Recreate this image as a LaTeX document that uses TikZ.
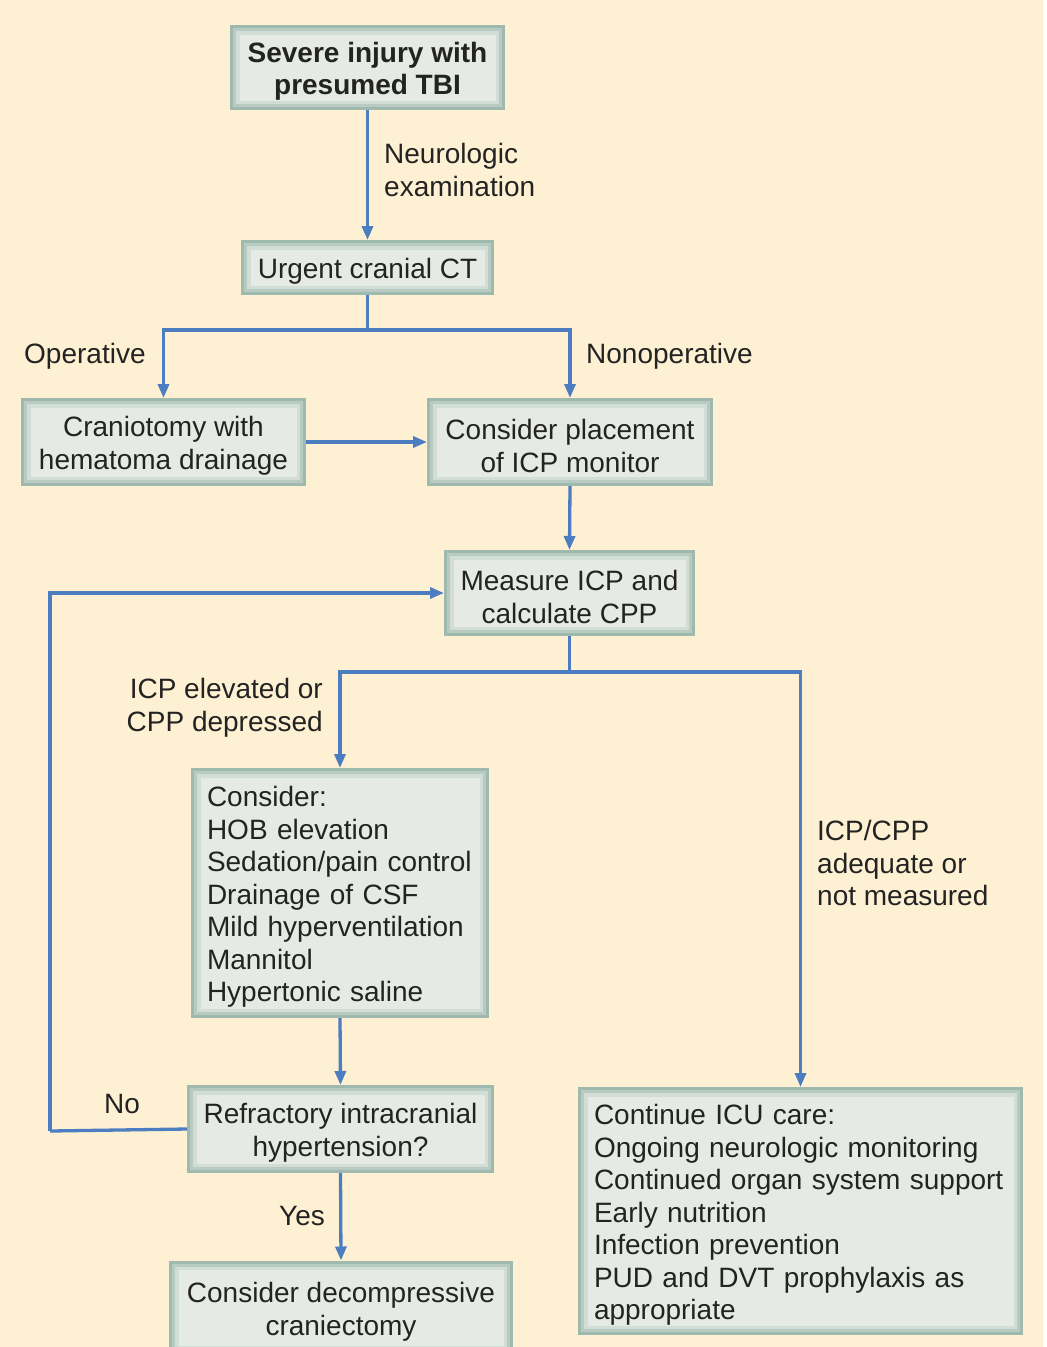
\documentclass[tikz,border=0pt]{standalone}
\usepackage{fontspec}
\setmainfont{Liberation Sans}
\usetikzlibrary{arrows.meta}
\definecolor{cream}{HTML}{FEF1D3}
\definecolor{boxfill}{HTML}{E6EAE4}
\definecolor{edgeA}{HTML}{9FB9AE}
\definecolor{edgeB}{HTML}{B7CBC2}
\definecolor{edgeC}{HTML}{D2DDD7}
\definecolor{flow}{HTML}{4D7DC1}
\definecolor{ink}{HTML}{232323}
% taller first line, so the text block sits slightly lower in its box
\newcommand{\topstrut}{\rule{0pt}{28pt}}
\tikzset{
  x=1pt, y=-1pt,
  every node/.style={text=ink, font=\fontsize{28}{32.5}\selectfont},
  stepbox/.style={rectangle, inner sep=0pt, fill=boxfill, draw=edgeA, line width=3pt,
    align=center,
    path picture={
      \draw[edgeC, line width=16pt] (path picture bounding box.south west) rectangle (path picture bounding box.north east);
      \draw[edgeB, line width=9pt] (path picture bounding box.south west) rectangle (path picture bounding box.north east);
    }},
  lbl/.style={inner sep=0pt},
  flowline/.style={draw=flow, line width=3.3pt},
  flowarrow/.style={flowline, -{Triangle[length=14pt,width=11pt]}},
}
\begin{document}
\begin{tikzpicture}
  \useasboundingbox (0,0) rectangle (1047,1347);
  % page and cream panel
  \fill[white] (0,0) rectangle (1047,1347);
  \fill[cream, rounded corners=14pt] (0,-20) -- (1043,-20) -- (1043,1367) -- (0,1367) -- cycle;

  % boxes
  \node[stepbox, minimum width=272pt, minimum height=82pt, font=\bfseries\fontsize{28}{32.5}\selectfont]
    (tbi) at (367.5,67.5) {\topstrut Severe injury with\\presumed TBI};
  \node[stepbox, minimum width=250pt, minimum height=52pt] (ct) at (367.5,267.5) {\topstrut Urgent cranial CT};
  \node[stepbox, minimum width=282pt, minimum height=85pt] (crani) at (163.5,442) {\topstrut Craniotomy with\\hematoma drainage};
  \node[stepbox, minimum width=283pt, minimum height=85pt] (icpmon) at (570,442) {\topstrut Consider placement\\of ICP monitor};
  \node[stepbox, minimum width=248pt, minimum height=83pt] (measure) at (569.5,593) {\topstrut Measure ICP and\\calculate CPP};
  \node[stepbox, minimum width=295pt, minimum height=247pt, text width=266pt, align=left]
    (consider) at (340,893) {\topstrut Consider:\\HOB elevation\\Sedation/pain control\\Drainage of CSF\\Mild hyperventilation\\Mannitol\\Hypertonic saline};
  \node[stepbox, minimum width=304pt, minimum height=85pt] (refr) at (340.5,1129) {\topstrut Refractory intracranial\\hypertension?};
  \node[stepbox, minimum width=341pt, minimum height=92pt] (decomp) at (341,1308) {\topstrut Consider decompressive\\craniectomy};
  \node[stepbox, minimum width=442pt, minimum height=245pt, text width=413pt, align=left]
    (icu) at (800.5,1211) {\topstrut Continue ICU care:\\Ongoing neurologic monitoring\\Continued organ system support\\Early nutrition\\Infection prevention\\PUD and DVT prophylaxis as\\appropriate};

  % branch points
  \coordinate (fork1) at (367.5,330);
  \coordinate (fork2) at (569.5,672);
  \coordinate (loop) at (50,1131);

  % connectors
  \draw[flowarrow] (tbi.south) -- (ct.north);
  \draw[flowline] (ct.south) -- (fork1);
  \draw[flowarrow] (fork1) -| (crani.north);
  \draw[flowarrow] (fork1) -| (icpmon.north);
  \draw[flowarrow] (crani.east) -- (icpmon.west);
  \draw[flowarrow] (icpmon.south) -- (measure.north);
  \draw[flowline] (measure.south) -- (fork2);
  \draw[flowarrow] (fork2) -| (consider.north);
  \draw[flowarrow] (fork2) -| (icu.north);
  \draw[flowarrow] (consider.south) -- (refr.north);
  \draw[flowline] (refr.west) -- (loop);
  \draw[flowarrow] (loop) |- (measure.west);
  \draw[flowarrow] (refr.south) -- (decomp.north);

  % connector labels
  \node[lbl, anchor=west, align=left] (lneuro) at (384,170) {Neurologic\\examination};
  \node[lbl, anchor=west] (lop) at (24,356) {Operative};
  \node[lbl, anchor=west] (lnonop) at (586,356) {Nonoperative};
  \node[lbl, anchor=east, align=right] (lelev) at (323,708) {ICP elevated or\\CPP depressed};
  \node[lbl, anchor=west, align=left] (ladeq) at (817,863) {ICP/CPP\\adequate or\\not measured};
  \node[lbl] (lno) at (122,1104) {No};
  \node[lbl] (lyes) at (302,1216) {Yes};
\end{tikzpicture}
\end{document}
